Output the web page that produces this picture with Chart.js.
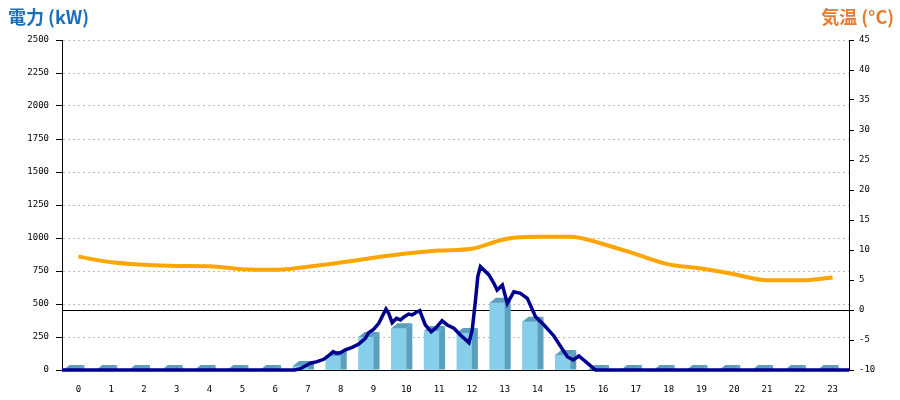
<!DOCTYPE html>
<html>
<head>
<meta charset="utf-8">
<script src="https://cdn.jsdelivr.net/npm/chart.js@4.4.1/dist/chart.umd.min.js"></script>
<style>
  html, body { margin: 0; padding: 0; background: #fff; }
  #wrap { width: 900px; height: 400px; }
</style>
</head>
<body>
<div id="wrap"><canvas id="powerChart" width="900" height="400"></canvas></div>
<script>
// hours of the day
const hours = ['0','1','2','3','4','5','6','7','8','9','10','11','12','13','14','15','16','17','18','19','20','21','22','23'];

// hourly generation (kW) - 3D bars
const genKW = [0, 0, 0, 0, 0, 0, 0, 30, 106, 250, 316, 295, 280, 510, 366, 114, 0, 0, 0, 0, 0, 0, 0, 0];

// hourly temperature (°C)
const tempC = [8.9, 7.95, 7.55, 7.35, 7.3, 6.8, 6.7, 7.2, 7.9, 8.7, 9.4, 9.9, 10.2, 11.8, 12.2, 12.2, 11.0, 9.3, 7.6, 6.9, 5.95, 4.95, 4.95, 5.4];

// detailed power curve (hour, kW)
const powerHour = [-0.5, 6.6, 6.77, 6.92, 7.07, 7.28, 7.48, 7.63, 7.77, 7.87, 7.99, 8.14, 8.35, 8.55, 8.75, 8.85, 9.0, 9.16, 9.26, 9.38, 9.46, 9.57, 9.7, 9.82, 9.94, 10.07, 10.18, 10.28, 10.41, 10.48, 10.58, 10.76, 10.89, 11.09, 11.25, 11.45, 11.65, 11.91, 12.01, 12.11, 12.18, 12.26, 12.52, 12.67, 12.77, 12.93, 13.08, 13.28, 13.48, 13.69, 13.94, 14.2, 14.5, 14.71, 14.91, 15.09, 15.26, 15.47, 15.77, 23.5];
const powerKW   = [0, 0, 10, 30, 51, 63, 81, 108, 139, 127, 131, 152, 172, 197, 240, 283, 308, 354, 404, 462, 430, 358, 392, 379, 404, 424, 417, 434, 449, 404, 341, 290, 316, 373, 341, 316, 265, 207, 303, 530, 707, 783, 720, 657, 606, 644, 505, 593, 581, 543, 404, 341, 258, 177, 101, 76, 106, 63, 0, 0];

// y-axis ranges
const kwMax = 2500, kwStep = 250;
const tMin = -10, tMax = 45, tStep = 5;

const tickFont = { family: '"DejaVu Sans Mono", monospace', size: 9 };

// draws the top and side faces of the bars
const bar3d = {
  id: 'bar3d',
  afterDatasetDraw(chart, args) {
    if (args.index !== 0) return;
    const ctx = chart.ctx;
    const dx = 6, dy = 5;
    ctx.save();
    ctx.fillStyle = '#5b9fbd';
    args.meta.data.forEach(bar => {
      const l = bar.x - bar.width / 2, r = bar.x + bar.width / 2;
      const t = bar.y, b = bar.base;
      ctx.beginPath();
      ctx.moveTo(r, t);
      ctx.lineTo(r + dx, t - dy);
      ctx.lineTo(r + dx, b);
      ctx.lineTo(r, b);
      ctx.closePath();
      ctx.fill();
      ctx.beginPath();
      ctx.moveTo(l, t);
      ctx.lineTo(l + dx, t - dy);
      ctx.lineTo(r + dx, t - dy);
      ctx.lineTo(r, t);
      ctx.closePath();
      ctx.fill();
    });
    ctx.restore();
  }
};

// axis titles at the top corners
const titles = {
  id: 'titles',
  afterDraw(chart) {
    const ctx = chart.ctx;
    ctx.save();
    ctx.font = 'bold 18px "Noto Sans CJK JP", "Noto Sans", sans-serif';
    ctx.textBaseline = 'alphabetic';
    ctx.fillStyle = '#1b6fb8';
    ctx.textAlign = 'left';
    ctx.fillText('電力 (kW)', 8, 24);
    ctx.fillStyle = '#ea7a2c';
    ctx.textAlign = 'right';
    ctx.fillText('気温 (°C)', 894, 24);
    ctx.restore();
  }
};

const ctx = document.getElementById('powerChart').getContext('2d');

new Chart(ctx, {
  data: {
    labels: hours,
    datasets: [
      {
        type: 'bar',
        data: genKW,
        backgroundColor: '#87ceeb',
        barThickness: 15,
        xAxisID: 'x',
        yAxisID: 'y',
        order: 2
      },
      {
        type: 'line',
        data: tempC,
        borderColor: '#ffa500',
        borderWidth: 4,
        pointRadius: 0,
        cubicInterpolationMode: 'monotone',
        xAxisID: 'x',
        yAxisID: 'y2',
        order: 1
      },
      {
        type: 'line',
        data: powerHour.map((h, i) => ({ x: h, y: powerKW[i] })),
        borderColor: '#000090',
        borderWidth: 3.5,
        pointRadius: 0,
        tension: 0,
        clip: 4,
        xAxisID: 'xl',
        yAxisID: 'y',
        order: 0
      }
    ]
  },
  options: {
    responsive: false,
    animation: false,
    layout: { padding: { top: 40, left: 0, right: 0, bottom: 0 } },
    plugins: {
      legend: { display: false },
      tooltip: { enabled: false }
    },
    scales: {
      x: {
        type: 'category',
        offset: true,
        grid: { display: false },
        border: { color: '#000', width: 1 },
        ticks: { color: '#000', font: tickFont, padding: 6, maxRotation: 0, autoSkip: false },
        afterFit: s => { s.height = 30; }
      },
      xl: {
        type: 'linear',
        display: false,
        min: -0.5,
        max: 23.5
      },
      y: {
        position: 'left',
        min: 0,
        max: kwMax,
        ticks: { stepSize: kwStep, color: '#000', font: tickFont, padding: 7, callback: v => String(v) },
        grid: { color: '#bbbbbb', tickColor: '#000', tickLength: 6 },
        border: { color: '#000', width: 1, dash: [2, 3] },
        afterFit: s => { s.width = 62; }
      },
      y2: {
        position: 'right',
        min: tMin,
        max: tMax,
        z: 1,
        ticks: { stepSize: tStep, color: '#000', font: tickFont, padding: 5, callback: v => String(v) },
        grid: {
          color: c => (c.tick && c.tick.value === 0 ? '#000' : 'rgba(0,0,0,0)'),
          tickColor: '#000',
          tickLength: 5
        },
        border: { color: '#000', width: 1 },
        afterFit: s => { s.width = 51; }
      }
    }
  },
  plugins: [bar3d, titles]
});
</script>
</body>
</html>
